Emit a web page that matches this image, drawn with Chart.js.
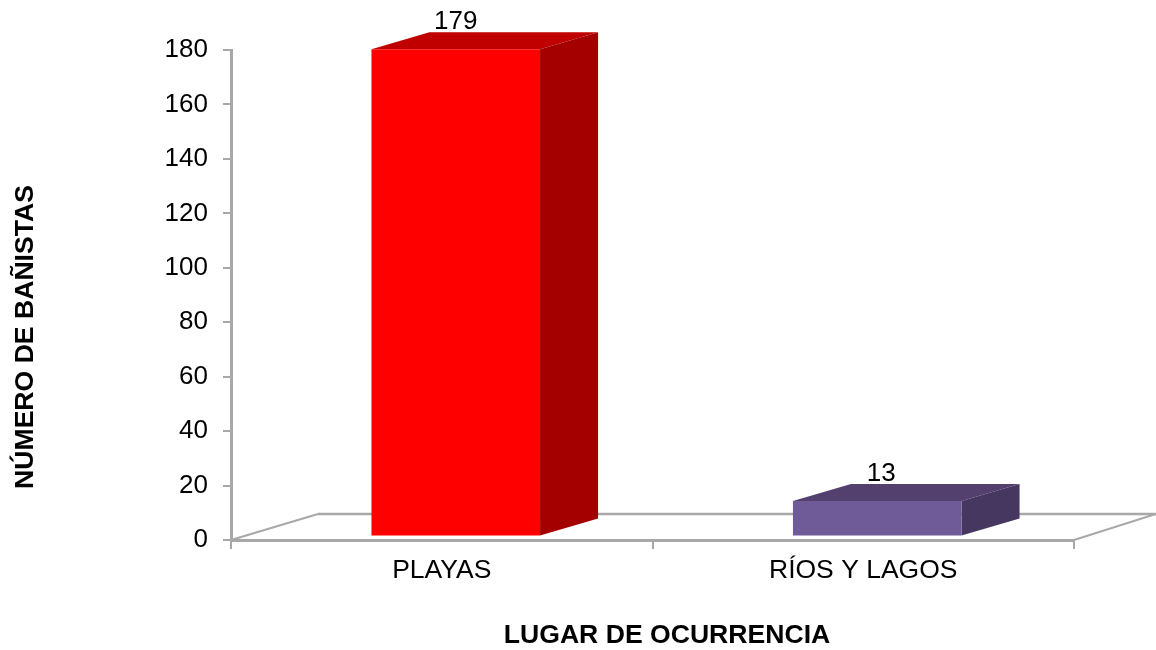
<!DOCTYPE html>
<html lang="es">
<head>
  <meta charset="UTF-8">
  <title>Lugar de ocurrencia</title>
  <script src="https://cdn.jsdelivr.net/npm/chart.js"></script>
  <style>
    html, body { margin: 0; background: #fff; }
    #wrap { width: 1156px; height: 650px; }
  </style>
</head>
<body>
<div id="wrap"><canvas id="barChart" width="1156" height="650"></canvas></div>
<script>
const categories = ["PLAYAS", "RÍOS Y LAGOS"];
const values = [179, 13];
const frontColors = ["#ff0000", "#6f5b97"];
const topColors = ["#c00000", "#54406f"];
const sideColors = ["#a40000", "#45375f"];
const yTitle = "NÚMERO DE BAÑISTAS";
const xTitle = "LUGAR DE OCURRENCIA";

const font = "'Liberation Sans', Arial, sans-serif";
const lineColor = "#a8a8a8";

// fake 3D: the bars sit a bit inside the floor
const barShift = { x: 14, y: -3.5 };
const barDepth = { x: 58, y: -17 };
const floorDepth = { x: 87, y: -26 };

const poly = (ctx, color, pts) => {
  ctx.fillStyle = color;
  ctx.beginPath();
  pts.forEach((p, i) => i ? ctx.lineTo(p[0], p[1]) : ctx.moveTo(p[0], p[1]));
  ctx.closePath();
  ctx.fill();
};

const fake3d = {
  id: "fake3d",
  beforeDatasetsDraw(chart) {
    const { ctx, chartArea: a } = chart;
    ctx.save();
    ctx.strokeStyle = lineColor;
    ctx.lineWidth = 2.5;
    ctx.beginPath();
    ctx.moveTo(a.left + floorDepth.x, a.bottom + floorDepth.y);
    ctx.lineTo(a.right + floorDepth.x - 5, a.bottom + floorDepth.y);
    ctx.stroke();
    ctx.lineWidth = 2;
    ctx.beginPath();
    ctx.moveTo(a.left, a.bottom);
    ctx.lineTo(a.left + floorDepth.x, a.bottom + floorDepth.y);
    ctx.moveTo(a.right, a.bottom);
    ctx.lineTo(a.right + floorDepth.x - 5, a.bottom + floorDepth.y);
    ctx.stroke();
    ctx.restore();
  },
  beforeDatasetDraw(chart) {
    const ctx = chart.ctx;
    ctx.save();
    ctx.translate(barShift.x, barShift.y);
    chart.getDatasetMeta(0).data.forEach((bar, i) => {
      const l = bar.x - bar.width / 2, r = bar.x + bar.width / 2;
      const dx = barDepth.x, dy = barDepth.y;
      poly(ctx, topColors[i], [[l, bar.y], [r, bar.y], [r + dx, bar.y + dy], [l + dx, bar.y + dy]]);
      poly(ctx, sideColors[i], [[r, bar.y], [r + dx, bar.y + dy], [r + dx, bar.base + dy], [r, bar.base]]);
    });
  },
  afterDatasetDraw(chart) {
    chart.ctx.restore();
  },
  afterDraw(chart) {
    const { ctx } = chart;
    ctx.save();
    ctx.fillStyle = "#000";
    ctx.textAlign = "center";
    ctx.textBaseline = "middle";
    ctx.font = "26px " + font;
    chart.getDatasetMeta(0).data.forEach((bar, i) => {
      ctx.fillText(values[i], bar.x + barShift.x + (i ? 4 : 0), bar.y + barShift.y - 27);
    });
    // axis titles are not centred on the axes in the original
    ctx.font = "bold 26.6px " + font;
    ctx.fillText(xTitle, 667, 636);
    ctx.translate(26, 337);
    ctx.rotate(-Math.PI / 2);
    ctx.fillText(yTitle, 0, 0);
    ctx.restore();
  }
};

Chart.defaults.font.family = font;
Chart.defaults.color = "#000";

new Chart(document.getElementById("barChart"), {
  type: "bar",
  data: {
    labels: categories,
    datasets: [{
      data: values,
      backgroundColor: frontColors,
      borderWidth: 0,
      categoryPercentage: 1,
      barPercentage: 0.4,
      clip: false
    }]
  },
  options: {
    responsive: false,
    animation: false,
    events: [],
    layout: { padding: { top: 50, right: 82 } },
    plugins: { legend: { display: false }, tooltip: { enabled: false } },
    scales: {
      x: {
        afterFit: s => { s.height = 110; },
        border: { color: lineColor, width: 3 },
        grid: { drawOnChartArea: false, color: lineColor, lineWidth: 2, tickLength: 9 },
        ticks: { font: { size: 26.5 }, padding: 6, maxRotation: 0 }
      },
      y: {
        min: 0,
        max: 180,
        afterFit: s => { s.width = 231; },
        border: { color: lineColor, width: 3 },
        grid: { drawOnChartArea: false, color: lineColor, lineWidth: 2, tickLength: 8 },
        ticks: { stepSize: 20, font: { size: 26 }, padding: 15 }
      }
    }
  },
  plugins: [fake3d]
});
</script>
</body>
</html>
